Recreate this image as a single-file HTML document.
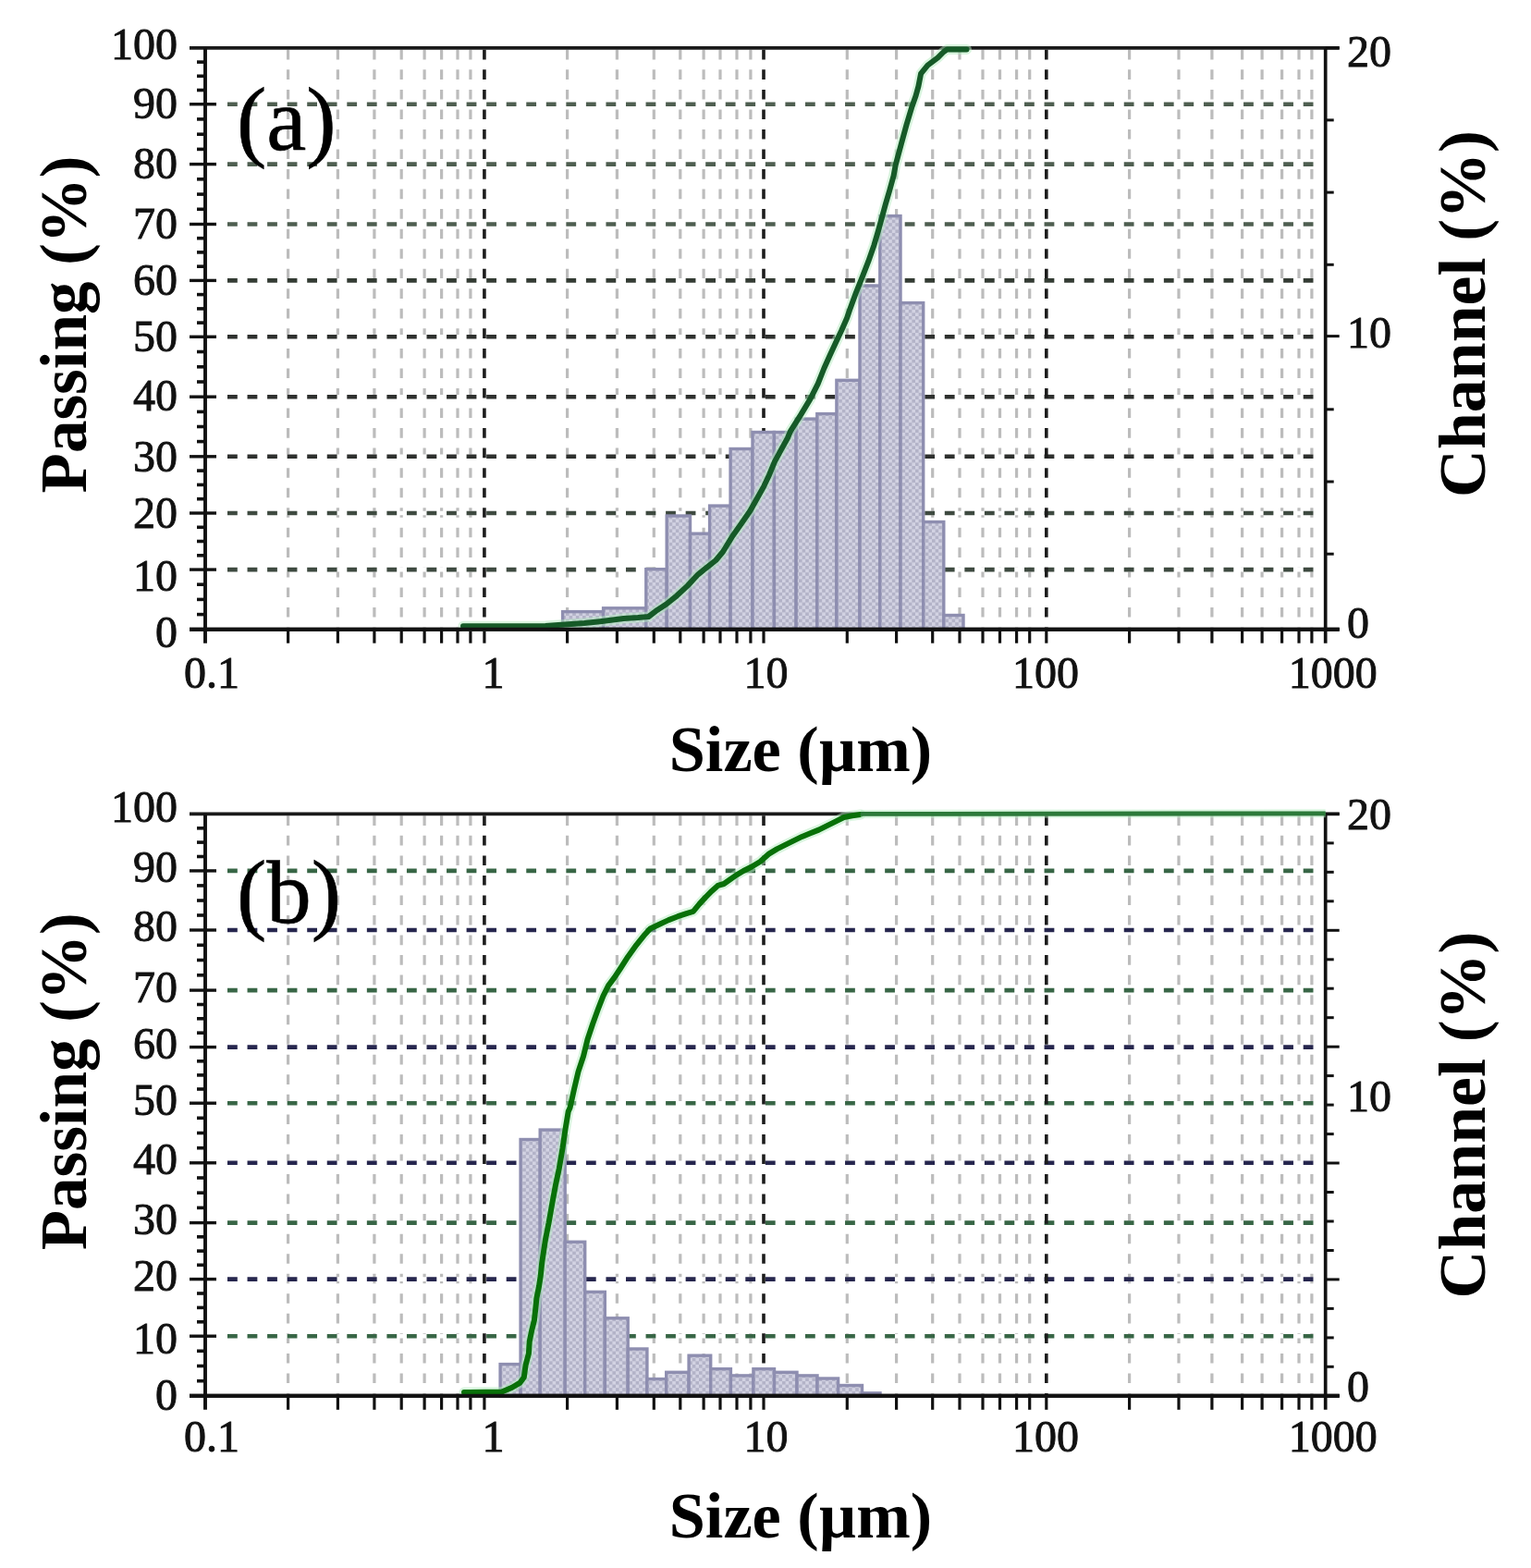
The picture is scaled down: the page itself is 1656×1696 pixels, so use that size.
<!DOCTYPE html>
<html><head><meta charset="utf-8"><title>Particle size distribution</title>
<style>
html,body{margin:0;padding:0;background:#fff;}
body{width:1656px;height:1696px;overflow:hidden;}
svg{display:block;}
.n{font-family:"Liberation Serif","Times New Roman",serif;font-size:48px;fill:#111;stroke:#111;stroke-width:0.9px;}
.t{font-family:"Liberation Serif","Times New Roman",serif;font-size:71px;font-weight:bold;fill:#000;}
.p{font-family:"Liberation Serif","Times New Roman",serif;font-size:97px;fill:#000;stroke:#000;stroke-width:0.6px;}
</style></head>
<body>
<svg width="1656" height="1696" viewBox="0 0 1656 1696">
<defs>
<pattern id="chk" patternUnits="userSpaceOnUse" width="7.2" height="7.2">
<rect width="7.2" height="7.2" fill="#d2d2e2"/>
<rect width="3.6" height="3.6" fill="#b3b3c8"/>
<rect x="3.6" y="3.6" width="3.6" height="3.6" fill="#b3b3c8"/>
</pattern>
</defs>
<g>
<rect width="1656" height="1696" fill="#fff"/>
<line x1="311.6" y1="51.9" x2="311.6" y2="680.7" stroke="#bcbcbc" stroke-width="3.2" stroke-dasharray="10.6 10.94" stroke-dashoffset="-1.9"/>
<line x1="365.4" y1="51.9" x2="365.4" y2="680.7" stroke="#bcbcbc" stroke-width="3.2" stroke-dasharray="10.6 10.94" stroke-dashoffset="-1.9"/>
<line x1="404.9" y1="51.9" x2="404.9" y2="680.7" stroke="#bcbcbc" stroke-width="3.2" stroke-dasharray="10.6 10.94" stroke-dashoffset="-1.9"/>
<line x1="434.2" y1="51.9" x2="434.2" y2="680.7" stroke="#bcbcbc" stroke-width="3.2" stroke-dasharray="10.6 10.94" stroke-dashoffset="-1.9"/>
<line x1="459.1" y1="51.9" x2="459.1" y2="680.7" stroke="#bcbcbc" stroke-width="3.2" stroke-dasharray="10.6 10.94" stroke-dashoffset="-1.9"/>
<line x1="477.6" y1="51.9" x2="477.6" y2="680.7" stroke="#bcbcbc" stroke-width="3.2" stroke-dasharray="10.6 10.94" stroke-dashoffset="-1.9"/>
<line x1="495.0" y1="51.9" x2="495.0" y2="680.7" stroke="#bcbcbc" stroke-width="3.2" stroke-dasharray="10.6 10.94" stroke-dashoffset="-1.9"/>
<line x1="508.9" y1="51.9" x2="508.9" y2="680.7" stroke="#bcbcbc" stroke-width="3.2" stroke-dasharray="10.6 10.94" stroke-dashoffset="-1.9"/>
<line x1="613.6" y1="51.9" x2="613.6" y2="680.7" stroke="#bcbcbc" stroke-width="3.2" stroke-dasharray="10.6 10.94" stroke-dashoffset="-1.9"/>
<line x1="667.4" y1="51.9" x2="667.4" y2="680.7" stroke="#bcbcbc" stroke-width="3.2" stroke-dasharray="10.6 10.94" stroke-dashoffset="-1.9"/>
<line x1="707.3" y1="51.9" x2="707.3" y2="680.7" stroke="#bcbcbc" stroke-width="3.2" stroke-dasharray="10.6 10.94" stroke-dashoffset="-1.9"/>
<line x1="735.8" y1="51.9" x2="735.8" y2="680.7" stroke="#bcbcbc" stroke-width="3.2" stroke-dasharray="10.6 10.94" stroke-dashoffset="-1.9"/>
<line x1="761.1" y1="51.9" x2="761.1" y2="680.7" stroke="#bcbcbc" stroke-width="3.2" stroke-dasharray="10.6 10.94" stroke-dashoffset="-1.9"/>
<line x1="779.0" y1="51.9" x2="779.0" y2="680.7" stroke="#bcbcbc" stroke-width="3.2" stroke-dasharray="10.6 10.94" stroke-dashoffset="-1.9"/>
<line x1="797.0" y1="51.9" x2="797.0" y2="680.7" stroke="#bcbcbc" stroke-width="3.2" stroke-dasharray="10.6 10.94" stroke-dashoffset="-1.9"/>
<line x1="811.9" y1="51.9" x2="811.9" y2="680.7" stroke="#bcbcbc" stroke-width="3.2" stroke-dasharray="10.6 10.94" stroke-dashoffset="-1.9"/>
<line x1="916.3" y1="51.9" x2="916.3" y2="680.7" stroke="#bcbcbc" stroke-width="3.2" stroke-dasharray="10.6 10.94" stroke-dashoffset="-1.9"/>
<line x1="969.6" y1="51.9" x2="969.6" y2="680.7" stroke="#bcbcbc" stroke-width="3.2" stroke-dasharray="10.6 10.94" stroke-dashoffset="-1.9"/>
<line x1="1008.7" y1="51.9" x2="1008.7" y2="680.7" stroke="#bcbcbc" stroke-width="3.2" stroke-dasharray="10.6 10.94" stroke-dashoffset="-1.9"/>
<line x1="1038.0" y1="51.9" x2="1038.0" y2="680.7" stroke="#bcbcbc" stroke-width="3.2" stroke-dasharray="10.6 10.94" stroke-dashoffset="-1.9"/>
<line x1="1063.0" y1="51.9" x2="1063.0" y2="680.7" stroke="#bcbcbc" stroke-width="3.2" stroke-dasharray="10.6 10.94" stroke-dashoffset="-1.9"/>
<line x1="1081.5" y1="51.9" x2="1081.5" y2="680.7" stroke="#bcbcbc" stroke-width="3.2" stroke-dasharray="10.6 10.94" stroke-dashoffset="-1.9"/>
<line x1="1099.6" y1="51.9" x2="1099.6" y2="680.7" stroke="#bcbcbc" stroke-width="3.2" stroke-dasharray="10.6 10.94" stroke-dashoffset="-1.9"/>
<line x1="1113.7" y1="51.9" x2="1113.7" y2="680.7" stroke="#bcbcbc" stroke-width="3.2" stroke-dasharray="10.6 10.94" stroke-dashoffset="-1.9"/>
<line x1="1221.6" y1="51.9" x2="1221.6" y2="680.7" stroke="#bcbcbc" stroke-width="3.2" stroke-dasharray="10.6 10.94" stroke-dashoffset="-1.9"/>
<line x1="1275.0" y1="51.9" x2="1275.0" y2="680.7" stroke="#bcbcbc" stroke-width="3.2" stroke-dasharray="10.6 10.94" stroke-dashoffset="-1.9"/>
<line x1="1310.9" y1="51.9" x2="1310.9" y2="680.7" stroke="#bcbcbc" stroke-width="3.2" stroke-dasharray="10.6 10.94" stroke-dashoffset="-1.9"/>
<line x1="1343.6" y1="51.9" x2="1343.6" y2="680.7" stroke="#bcbcbc" stroke-width="3.2" stroke-dasharray="10.6 10.94" stroke-dashoffset="-1.9"/>
<line x1="1365.1" y1="51.9" x2="1365.1" y2="680.7" stroke="#bcbcbc" stroke-width="3.2" stroke-dasharray="10.6 10.94" stroke-dashoffset="-1.9"/>
<line x1="1386.6" y1="51.9" x2="1386.6" y2="680.7" stroke="#bcbcbc" stroke-width="3.2" stroke-dasharray="10.6 10.94" stroke-dashoffset="-1.9"/>
<line x1="1405.0" y1="51.9" x2="1405.0" y2="680.7" stroke="#bcbcbc" stroke-width="3.2" stroke-dasharray="10.6 10.94" stroke-dashoffset="-1.9"/>
<line x1="1418.9" y1="51.9" x2="1418.9" y2="680.7" stroke="#bcbcbc" stroke-width="3.2" stroke-dasharray="10.6 10.94" stroke-dashoffset="-1.9"/>
<line x1="224.0" y1="616.1" x2="1431.7" y2="616.1" stroke="#fff" stroke-width="4.6"/>
<line x1="246.0" y1="616.1" x2="1421.7" y2="616.1" stroke="#3e4a40" stroke-width="4.6" stroke-dasharray="10.8 10.75"/>
<line x1="224.0" y1="555.0" x2="1431.7" y2="555.0" stroke="#fff" stroke-width="4.6"/>
<line x1="246.0" y1="555.0" x2="1421.7" y2="555.0" stroke="#3e4a40" stroke-width="4.6" stroke-dasharray="10.8 10.75"/>
<line x1="224.0" y1="493.8" x2="1431.7" y2="493.8" stroke="#fff" stroke-width="4.6"/>
<line x1="246.0" y1="493.8" x2="1421.7" y2="493.8" stroke="#2e302e" stroke-width="4.6" stroke-dasharray="10.8 10.75"/>
<line x1="224.0" y1="429.2" x2="1431.7" y2="429.2" stroke="#fff" stroke-width="4.6"/>
<line x1="246.0" y1="429.2" x2="1421.7" y2="429.2" stroke="#2e302e" stroke-width="4.6" stroke-dasharray="10.8 10.75"/>
<line x1="224.0" y1="364.3" x2="1431.7" y2="364.3" stroke="#fff" stroke-width="4.6"/>
<line x1="246.0" y1="364.3" x2="1421.7" y2="364.3" stroke="#2e302e" stroke-width="4.6" stroke-dasharray="10.8 10.75"/>
<line x1="224.0" y1="303.4" x2="1431.7" y2="303.4" stroke="#fff" stroke-width="4.6"/>
<line x1="246.0" y1="303.4" x2="1421.7" y2="303.4" stroke="#343c34" stroke-width="4.6" stroke-dasharray="10.8 10.75"/>
<line x1="224.0" y1="242.5" x2="1431.7" y2="242.5" stroke="#fff" stroke-width="4.6"/>
<line x1="246.0" y1="242.5" x2="1421.7" y2="242.5" stroke="#4e5e50" stroke-width="4.6" stroke-dasharray="10.8 10.75"/>
<line x1="224.0" y1="177.6" x2="1431.7" y2="177.6" stroke="#fff" stroke-width="4.6"/>
<line x1="246.0" y1="177.6" x2="1421.7" y2="177.6" stroke="#4e5e50" stroke-width="4.6" stroke-dasharray="10.8 10.75"/>
<line x1="224.0" y1="112.7" x2="1431.7" y2="112.7" stroke="#fff" stroke-width="4.6"/>
<line x1="246.0" y1="112.7" x2="1421.7" y2="112.7" stroke="#4e5e50" stroke-width="4.6" stroke-dasharray="10.8 10.75"/>
<line x1="523.9" y1="51.9" x2="523.9" y2="680.7" stroke="#1c1c1c" stroke-width="3.6" stroke-dasharray="10.6 10.94" stroke-dashoffset="-1.9"/>
<line x1="826.0" y1="51.9" x2="826.0" y2="680.7" stroke="#1c1c1c" stroke-width="3.6" stroke-dasharray="10.6 10.94" stroke-dashoffset="-1.9"/>
<line x1="1131.8" y1="51.9" x2="1131.8" y2="680.7" stroke="#1c1c1c" stroke-width="3.6" stroke-dasharray="10.6 10.94" stroke-dashoffset="-1.9"/>
<rect x="608.6" y="661.6" width="44.0" height="19.1" fill="url(#chk)" stroke="#8e8eb0" stroke-width="3.4"/>
<rect x="652.6" y="657.8" width="46.2" height="22.9" fill="url(#chk)" stroke="#8e8eb0" stroke-width="3.4"/>
<rect x="698.8" y="615.7" width="22.4" height="65.0" fill="url(#chk)" stroke="#8e8eb0" stroke-width="3.4"/>
<rect x="721.2" y="558.0" width="25.3" height="122.7" fill="url(#chk)" stroke="#8e8eb0" stroke-width="3.4"/>
<rect x="746.5" y="577.2" width="21.1" height="103.5" fill="url(#chk)" stroke="#8e8eb0" stroke-width="3.4"/>
<rect x="767.6" y="547.1" width="22.5" height="133.6" fill="url(#chk)" stroke="#8e8eb0" stroke-width="3.4"/>
<rect x="790.1" y="485.5" width="23.9" height="195.2" fill="url(#chk)" stroke="#8e8eb0" stroke-width="3.4"/>
<rect x="814.0" y="467.5" width="23.4" height="213.2" fill="url(#chk)" stroke="#8e8eb0" stroke-width="3.4"/>
<rect x="837.4" y="467.5" width="23.7" height="213.2" fill="url(#chk)" stroke="#8e8eb0" stroke-width="3.4"/>
<rect x="861.1" y="453.1" width="22.7" height="227.6" fill="url(#chk)" stroke="#8e8eb0" stroke-width="3.4"/>
<rect x="883.8" y="447.6" width="21.1" height="233.1" fill="url(#chk)" stroke="#8e8eb0" stroke-width="3.4"/>
<rect x="904.9" y="411.3" width="25.1" height="269.4" fill="url(#chk)" stroke="#8e8eb0" stroke-width="3.4"/>
<rect x="930.0" y="309.0" width="21.8" height="371.7" fill="url(#chk)" stroke="#8e8eb0" stroke-width="3.4"/>
<rect x="951.8" y="233.6" width="22.2" height="447.1" fill="url(#chk)" stroke="#8e8eb0" stroke-width="3.4"/>
<rect x="974.0" y="327.6" width="24.7" height="353.1" fill="url(#chk)" stroke="#8e8eb0" stroke-width="3.4"/>
<rect x="998.7" y="564.5" width="22.1" height="116.2" fill="url(#chk)" stroke="#8e8eb0" stroke-width="3.4"/>
<rect x="1020.8" y="665.5" width="21.2" height="15.2" fill="url(#chk)" stroke="#8e8eb0" stroke-width="3.4"/>
<line x1="205.0" y1="51.9" x2="1448.7" y2="51.9" stroke="#1a1a1a" stroke-width="3.9"/>
<line x1="205.0" y1="680.7" x2="1448.7" y2="680.7" stroke="#111" stroke-width="3.9"/>
<line x1="222.0" y1="51.9" x2="222.0" y2="695.7" stroke="#111" stroke-width="3.9"/>
<line x1="1433.7" y1="51.9" x2="1433.7" y2="695.7" stroke="#111" stroke-width="3.7"/>
<line x1="205.0" y1="616.1" x2="234.0" y2="616.1" stroke="#111" stroke-width="3.4"/>
<line x1="205.0" y1="555.0" x2="234.0" y2="555.0" stroke="#111" stroke-width="3.4"/>
<line x1="205.0" y1="493.8" x2="234.0" y2="493.8" stroke="#111" stroke-width="3.4"/>
<line x1="205.0" y1="429.2" x2="234.0" y2="429.2" stroke="#111" stroke-width="3.4"/>
<line x1="205.0" y1="364.3" x2="234.0" y2="364.3" stroke="#111" stroke-width="3.4"/>
<line x1="205.0" y1="303.4" x2="234.0" y2="303.4" stroke="#111" stroke-width="3.4"/>
<line x1="205.0" y1="242.5" x2="234.0" y2="242.5" stroke="#111" stroke-width="3.4"/>
<line x1="205.0" y1="177.6" x2="234.0" y2="177.6" stroke="#111" stroke-width="3.4"/>
<line x1="205.0" y1="112.7" x2="234.0" y2="112.7" stroke="#111" stroke-width="3.4"/>
<line x1="213.0" y1="664.6" x2="222.0" y2="664.6" stroke="#111" stroke-width="3.6"/>
<line x1="213.0" y1="648.4" x2="222.0" y2="648.4" stroke="#111" stroke-width="3.6"/>
<line x1="213.0" y1="632.2" x2="222.0" y2="632.2" stroke="#111" stroke-width="3.6"/>
<line x1="213.0" y1="600.8" x2="222.0" y2="600.8" stroke="#111" stroke-width="3.6"/>
<line x1="213.0" y1="585.5" x2="222.0" y2="585.5" stroke="#111" stroke-width="3.6"/>
<line x1="213.0" y1="570.3" x2="222.0" y2="570.3" stroke="#111" stroke-width="3.6"/>
<line x1="213.0" y1="539.7" x2="222.0" y2="539.7" stroke="#111" stroke-width="3.6"/>
<line x1="213.0" y1="524.4" x2="222.0" y2="524.4" stroke="#111" stroke-width="3.6"/>
<line x1="213.0" y1="509.1" x2="222.0" y2="509.1" stroke="#111" stroke-width="3.6"/>
<line x1="213.0" y1="477.6" x2="222.0" y2="477.6" stroke="#111" stroke-width="3.6"/>
<line x1="213.0" y1="461.5" x2="222.0" y2="461.5" stroke="#111" stroke-width="3.6"/>
<line x1="213.0" y1="445.4" x2="222.0" y2="445.4" stroke="#111" stroke-width="3.6"/>
<line x1="213.0" y1="413.0" x2="222.0" y2="413.0" stroke="#111" stroke-width="3.6"/>
<line x1="213.0" y1="396.8" x2="222.0" y2="396.8" stroke="#111" stroke-width="3.6"/>
<line x1="213.0" y1="380.5" x2="222.0" y2="380.5" stroke="#111" stroke-width="3.6"/>
<line x1="213.0" y1="349.1" x2="222.0" y2="349.1" stroke="#111" stroke-width="3.6"/>
<line x1="213.0" y1="333.9" x2="222.0" y2="333.9" stroke="#111" stroke-width="3.6"/>
<line x1="213.0" y1="318.6" x2="222.0" y2="318.6" stroke="#111" stroke-width="3.6"/>
<line x1="213.0" y1="288.2" x2="222.0" y2="288.2" stroke="#111" stroke-width="3.6"/>
<line x1="213.0" y1="272.9" x2="222.0" y2="272.9" stroke="#111" stroke-width="3.6"/>
<line x1="213.0" y1="257.7" x2="222.0" y2="257.7" stroke="#111" stroke-width="3.6"/>
<line x1="213.0" y1="226.3" x2="222.0" y2="226.3" stroke="#111" stroke-width="3.6"/>
<line x1="213.0" y1="210.1" x2="222.0" y2="210.1" stroke="#111" stroke-width="3.6"/>
<line x1="213.0" y1="193.8" x2="222.0" y2="193.8" stroke="#111" stroke-width="3.6"/>
<line x1="213.0" y1="161.4" x2="222.0" y2="161.4" stroke="#111" stroke-width="3.6"/>
<line x1="213.0" y1="145.2" x2="222.0" y2="145.2" stroke="#111" stroke-width="3.6"/>
<line x1="213.0" y1="128.9" x2="222.0" y2="128.9" stroke="#111" stroke-width="3.6"/>
<line x1="213.0" y1="97.5" x2="222.0" y2="97.5" stroke="#111" stroke-width="3.6"/>
<line x1="213.0" y1="82.3" x2="222.0" y2="82.3" stroke="#111" stroke-width="3.6"/>
<line x1="213.0" y1="67.1" x2="222.0" y2="67.1" stroke="#111" stroke-width="3.6"/>
<line x1="311.6" y1="680.7" x2="311.6" y2="695.7" stroke="#111" stroke-width="3.2"/>
<line x1="365.4" y1="680.7" x2="365.4" y2="695.7" stroke="#111" stroke-width="3.2"/>
<line x1="404.9" y1="680.7" x2="404.9" y2="695.7" stroke="#111" stroke-width="3.2"/>
<line x1="434.2" y1="680.7" x2="434.2" y2="695.7" stroke="#111" stroke-width="3.2"/>
<line x1="459.1" y1="680.7" x2="459.1" y2="695.7" stroke="#111" stroke-width="3.2"/>
<line x1="477.6" y1="680.7" x2="477.6" y2="695.7" stroke="#111" stroke-width="3.2"/>
<line x1="495.0" y1="680.7" x2="495.0" y2="695.7" stroke="#111" stroke-width="3.2"/>
<line x1="508.9" y1="680.7" x2="508.9" y2="695.7" stroke="#111" stroke-width="3.2"/>
<line x1="613.6" y1="680.7" x2="613.6" y2="695.7" stroke="#111" stroke-width="3.2"/>
<line x1="667.4" y1="680.7" x2="667.4" y2="695.7" stroke="#111" stroke-width="3.2"/>
<line x1="707.3" y1="680.7" x2="707.3" y2="695.7" stroke="#111" stroke-width="3.2"/>
<line x1="735.8" y1="680.7" x2="735.8" y2="695.7" stroke="#111" stroke-width="3.2"/>
<line x1="761.1" y1="680.7" x2="761.1" y2="695.7" stroke="#111" stroke-width="3.2"/>
<line x1="779.0" y1="680.7" x2="779.0" y2="695.7" stroke="#111" stroke-width="3.2"/>
<line x1="797.0" y1="680.7" x2="797.0" y2="695.7" stroke="#111" stroke-width="3.2"/>
<line x1="811.9" y1="680.7" x2="811.9" y2="695.7" stroke="#111" stroke-width="3.2"/>
<line x1="916.3" y1="680.7" x2="916.3" y2="695.7" stroke="#111" stroke-width="3.2"/>
<line x1="969.6" y1="680.7" x2="969.6" y2="695.7" stroke="#111" stroke-width="3.2"/>
<line x1="1008.7" y1="680.7" x2="1008.7" y2="695.7" stroke="#111" stroke-width="3.2"/>
<line x1="1038.0" y1="680.7" x2="1038.0" y2="695.7" stroke="#111" stroke-width="3.2"/>
<line x1="1063.0" y1="680.7" x2="1063.0" y2="695.7" stroke="#111" stroke-width="3.2"/>
<line x1="1081.5" y1="680.7" x2="1081.5" y2="695.7" stroke="#111" stroke-width="3.2"/>
<line x1="1099.6" y1="680.7" x2="1099.6" y2="695.7" stroke="#111" stroke-width="3.2"/>
<line x1="1113.7" y1="680.7" x2="1113.7" y2="695.7" stroke="#111" stroke-width="3.2"/>
<line x1="1221.6" y1="680.7" x2="1221.6" y2="695.7" stroke="#111" stroke-width="3.2"/>
<line x1="1275.0" y1="680.7" x2="1275.0" y2="695.7" stroke="#111" stroke-width="3.2"/>
<line x1="1310.9" y1="680.7" x2="1310.9" y2="695.7" stroke="#111" stroke-width="3.2"/>
<line x1="1343.6" y1="680.7" x2="1343.6" y2="695.7" stroke="#111" stroke-width="3.2"/>
<line x1="1365.1" y1="680.7" x2="1365.1" y2="695.7" stroke="#111" stroke-width="3.2"/>
<line x1="1386.6" y1="680.7" x2="1386.6" y2="695.7" stroke="#111" stroke-width="3.2"/>
<line x1="1405.0" y1="680.7" x2="1405.0" y2="695.7" stroke="#111" stroke-width="3.2"/>
<line x1="1418.9" y1="680.7" x2="1418.9" y2="695.7" stroke="#111" stroke-width="3.2"/>
<line x1="523.9" y1="680.7" x2="523.9" y2="695.7" stroke="#111" stroke-width="3.2"/>
<line x1="826.0" y1="680.7" x2="826.0" y2="695.7" stroke="#111" stroke-width="3.2"/>
<line x1="1131.8" y1="680.7" x2="1131.8" y2="695.7" stroke="#111" stroke-width="3.2"/>
<line x1="1433.7" y1="680.7" x2="1448.7" y2="680.7" stroke="#111" stroke-width="3"/>
<line x1="1433.7" y1="51.9" x2="1448.7" y2="51.9" stroke="#111" stroke-width="3"/>
<line x1="1433.7" y1="129.9" x2="1442.7" y2="129.9" stroke="#111" stroke-width="3"/>
<line x1="1433.7" y1="208.1" x2="1442.7" y2="208.1" stroke="#111" stroke-width="3"/>
<line x1="1433.7" y1="286.3" x2="1442.7" y2="286.3" stroke="#111" stroke-width="3"/>
<line x1="1433.7" y1="442.8" x2="1442.7" y2="442.8" stroke="#111" stroke-width="3"/>
<line x1="1433.7" y1="521.0" x2="1442.7" y2="521.0" stroke="#111" stroke-width="3"/>
<line x1="1433.7" y1="599.2" x2="1442.7" y2="599.2" stroke="#111" stroke-width="3"/>
<line x1="1433.7" y1="363.6" x2="1448.7" y2="363.6" stroke="#111" stroke-width="3"/>
<polyline points="501.0,677.2 590.0,677.0 632.0,674.0 649.0,672.2 674.5,669.0 690.0,668.0 701.5,667.0 709.2,661.1 720.7,653.5 732.1,644.3 743.6,633.6 755.1,621.3 766.6,612.1 774.3,606.0 782.0,596.8 788.1,586.8 792.4,579.7 802.3,565.7 811.4,552.5 818.8,539.3 826.2,526.1 832.0,513.7 837.8,499.6 844.4,487.3 851.8,474.0 855.0,466.3 866.5,448.1 876.4,431.6 884.7,415.1 891.3,398.5 897.9,383.7 904.5,369.6 910.3,357.3 916.1,344.0 918.8,336.0 925.9,316.5 933.0,298.8 939.2,282.9 945.4,265.2 949.8,250.2 954.2,234.2 957.8,221.0 962.2,206.0 966.6,190.0 968.7,178.5 975.1,154.7 980.6,134.6 986.1,116.3 990.6,103.5 993.4,93.4 996.1,79.7 1003.4,70.6 1014.4,62.4 1020.8,56.0 1024.5,53.4 1045.5,53.4" fill="none" stroke="#b4ecc0" stroke-width="11" stroke-linejoin="round" stroke-linecap="round" opacity="0.5"/>
<polyline points="501.0,677.2 590.0,677.0 632.0,674.0 649.0,672.2 674.5,669.0 690.0,668.0 701.5,667.0 709.2,661.1 720.7,653.5 732.1,644.3 743.6,633.6 755.1,621.3 766.6,612.1 774.3,606.0 782.0,596.8 788.1,586.8 792.4,579.7 802.3,565.7 811.4,552.5 818.8,539.3 826.2,526.1 832.0,513.7 837.8,499.6 844.4,487.3 851.8,474.0 855.0,466.3 866.5,448.1 876.4,431.6 884.7,415.1 891.3,398.5 897.9,383.7 904.5,369.6 910.3,357.3 916.1,344.0 918.8,336.0 925.9,316.5 933.0,298.8 939.2,282.9 945.4,265.2 949.8,250.2 954.2,234.2 957.8,221.0 962.2,206.0 966.6,190.0 968.7,178.5 975.1,154.7 980.6,134.6 986.1,116.3 990.6,103.5 993.4,93.4 996.1,79.7 1003.4,70.6 1014.4,62.4 1020.8,56.0 1024.5,53.4 1045.5,53.4" fill="none" stroke="#165a28" stroke-width="6" stroke-linejoin="round" stroke-linecap="round"/>
<line x1="205.0" y1="680.7" x2="1448.7" y2="680.7" stroke="#111" stroke-width="3.9"/>
<text x="192" y="699.9" class="n" text-anchor="end">0</text>
<text x="192" y="638.9" class="n" text-anchor="end">10</text>
<text x="192" y="570.9" class="n" text-anchor="end">20</text>
<text x="192" y="510.1" class="n" text-anchor="end">30</text>
<text x="192" y="444.3" class="n" text-anchor="end">40</text>
<text x="192" y="380.2" class="n" text-anchor="end">50</text>
<text x="192" y="319.2" class="n" text-anchor="end">60</text>
<text x="192" y="258.2" class="n" text-anchor="end">70</text>
<text x="192" y="193.0" class="n" text-anchor="end">80</text>
<text x="192" y="128.3" class="n" text-anchor="end">90</text>
<text x="192" y="64.0" class="n" text-anchor="end">100</text>
<text x="1457" y="71.5" class="n">20</text>
<text x="1457" y="376.0" class="n">10</text>
<text x="1457" y="690.0" class="n">0</text>
<text x="229" y="744.2" class="n" text-anchor="middle">0.1</text>
<text x="533.5" y="744.2" class="n" text-anchor="middle">1</text>
<text x="828.5" y="744.2" class="n" text-anchor="middle">10</text>
<text x="1131" y="744.2" class="n" text-anchor="middle">100</text>
<text x="1441.7" y="744.2" class="n" text-anchor="middle">1000</text>
<text x="866" y="834.0" class="t" text-anchor="middle" style="font-size:70.3px">Size (µm)</text>
<text transform="translate(92.5 351.0) rotate(-90)" class="t" text-anchor="middle">Passing (%)</text>
<text transform="translate(1605.5 339.5) rotate(-90)" class="t" text-anchor="middle" style="font-size:71.8px">Channel (%)</text>
<text x="256" y="162.4" class="p">(a)</text>
<line x1="311.6" y1="880.4" x2="311.6" y2="1509.8" stroke="#bcbcbc" stroke-width="3.2" stroke-dasharray="10.6 10.94" stroke-dashoffset="-1.9"/>
<line x1="365.4" y1="880.4" x2="365.4" y2="1509.8" stroke="#bcbcbc" stroke-width="3.2" stroke-dasharray="10.6 10.94" stroke-dashoffset="-1.9"/>
<line x1="404.9" y1="880.4" x2="404.9" y2="1509.8" stroke="#bcbcbc" stroke-width="3.2" stroke-dasharray="10.6 10.94" stroke-dashoffset="-1.9"/>
<line x1="434.2" y1="880.4" x2="434.2" y2="1509.8" stroke="#bcbcbc" stroke-width="3.2" stroke-dasharray="10.6 10.94" stroke-dashoffset="-1.9"/>
<line x1="459.1" y1="880.4" x2="459.1" y2="1509.8" stroke="#bcbcbc" stroke-width="3.2" stroke-dasharray="10.6 10.94" stroke-dashoffset="-1.9"/>
<line x1="477.6" y1="880.4" x2="477.6" y2="1509.8" stroke="#bcbcbc" stroke-width="3.2" stroke-dasharray="10.6 10.94" stroke-dashoffset="-1.9"/>
<line x1="495.0" y1="880.4" x2="495.0" y2="1509.8" stroke="#bcbcbc" stroke-width="3.2" stroke-dasharray="10.6 10.94" stroke-dashoffset="-1.9"/>
<line x1="508.9" y1="880.4" x2="508.9" y2="1509.8" stroke="#bcbcbc" stroke-width="3.2" stroke-dasharray="10.6 10.94" stroke-dashoffset="-1.9"/>
<line x1="613.6" y1="880.4" x2="613.6" y2="1509.8" stroke="#bcbcbc" stroke-width="3.2" stroke-dasharray="10.6 10.94" stroke-dashoffset="-1.9"/>
<line x1="667.4" y1="880.4" x2="667.4" y2="1509.8" stroke="#bcbcbc" stroke-width="3.2" stroke-dasharray="10.6 10.94" stroke-dashoffset="-1.9"/>
<line x1="707.3" y1="880.4" x2="707.3" y2="1509.8" stroke="#bcbcbc" stroke-width="3.2" stroke-dasharray="10.6 10.94" stroke-dashoffset="-1.9"/>
<line x1="735.8" y1="880.4" x2="735.8" y2="1509.8" stroke="#bcbcbc" stroke-width="3.2" stroke-dasharray="10.6 10.94" stroke-dashoffset="-1.9"/>
<line x1="761.1" y1="880.4" x2="761.1" y2="1509.8" stroke="#bcbcbc" stroke-width="3.2" stroke-dasharray="10.6 10.94" stroke-dashoffset="-1.9"/>
<line x1="779.0" y1="880.4" x2="779.0" y2="1509.8" stroke="#bcbcbc" stroke-width="3.2" stroke-dasharray="10.6 10.94" stroke-dashoffset="-1.9"/>
<line x1="797.0" y1="880.4" x2="797.0" y2="1509.8" stroke="#bcbcbc" stroke-width="3.2" stroke-dasharray="10.6 10.94" stroke-dashoffset="-1.9"/>
<line x1="811.9" y1="880.4" x2="811.9" y2="1509.8" stroke="#bcbcbc" stroke-width="3.2" stroke-dasharray="10.6 10.94" stroke-dashoffset="-1.9"/>
<line x1="916.3" y1="880.4" x2="916.3" y2="1509.8" stroke="#bcbcbc" stroke-width="3.2" stroke-dasharray="10.6 10.94" stroke-dashoffset="-1.9"/>
<line x1="969.6" y1="880.4" x2="969.6" y2="1509.8" stroke="#bcbcbc" stroke-width="3.2" stroke-dasharray="10.6 10.94" stroke-dashoffset="-1.9"/>
<line x1="1008.7" y1="880.4" x2="1008.7" y2="1509.8" stroke="#bcbcbc" stroke-width="3.2" stroke-dasharray="10.6 10.94" stroke-dashoffset="-1.9"/>
<line x1="1038.0" y1="880.4" x2="1038.0" y2="1509.8" stroke="#bcbcbc" stroke-width="3.2" stroke-dasharray="10.6 10.94" stroke-dashoffset="-1.9"/>
<line x1="1063.0" y1="880.4" x2="1063.0" y2="1509.8" stroke="#bcbcbc" stroke-width="3.2" stroke-dasharray="10.6 10.94" stroke-dashoffset="-1.9"/>
<line x1="1081.5" y1="880.4" x2="1081.5" y2="1509.8" stroke="#bcbcbc" stroke-width="3.2" stroke-dasharray="10.6 10.94" stroke-dashoffset="-1.9"/>
<line x1="1099.6" y1="880.4" x2="1099.6" y2="1509.8" stroke="#bcbcbc" stroke-width="3.2" stroke-dasharray="10.6 10.94" stroke-dashoffset="-1.9"/>
<line x1="1113.7" y1="880.4" x2="1113.7" y2="1509.8" stroke="#bcbcbc" stroke-width="3.2" stroke-dasharray="10.6 10.94" stroke-dashoffset="-1.9"/>
<line x1="1221.6" y1="880.4" x2="1221.6" y2="1509.8" stroke="#bcbcbc" stroke-width="3.2" stroke-dasharray="10.6 10.94" stroke-dashoffset="-1.9"/>
<line x1="1275.0" y1="880.4" x2="1275.0" y2="1509.8" stroke="#bcbcbc" stroke-width="3.2" stroke-dasharray="10.6 10.94" stroke-dashoffset="-1.9"/>
<line x1="1310.9" y1="880.4" x2="1310.9" y2="1509.8" stroke="#bcbcbc" stroke-width="3.2" stroke-dasharray="10.6 10.94" stroke-dashoffset="-1.9"/>
<line x1="1343.6" y1="880.4" x2="1343.6" y2="1509.8" stroke="#bcbcbc" stroke-width="3.2" stroke-dasharray="10.6 10.94" stroke-dashoffset="-1.9"/>
<line x1="1365.1" y1="880.4" x2="1365.1" y2="1509.8" stroke="#bcbcbc" stroke-width="3.2" stroke-dasharray="10.6 10.94" stroke-dashoffset="-1.9"/>
<line x1="1386.6" y1="880.4" x2="1386.6" y2="1509.8" stroke="#bcbcbc" stroke-width="3.2" stroke-dasharray="10.6 10.94" stroke-dashoffset="-1.9"/>
<line x1="1405.0" y1="880.4" x2="1405.0" y2="1509.8" stroke="#bcbcbc" stroke-width="3.2" stroke-dasharray="10.6 10.94" stroke-dashoffset="-1.9"/>
<line x1="1418.9" y1="880.4" x2="1418.9" y2="1509.8" stroke="#bcbcbc" stroke-width="3.2" stroke-dasharray="10.6 10.94" stroke-dashoffset="-1.9"/>
<line x1="224.0" y1="1445.2" x2="1431.7" y2="1445.2" stroke="#fff" stroke-width="4.6"/>
<line x1="246.0" y1="1445.2" x2="1421.7" y2="1445.2" stroke="#386646" stroke-width="4.6" stroke-dasharray="10.8 10.75"/>
<line x1="224.0" y1="1383.6" x2="1431.7" y2="1383.6" stroke="#fff" stroke-width="4.6"/>
<line x1="246.0" y1="1383.6" x2="1421.7" y2="1383.6" stroke="#26264e" stroke-width="4.6" stroke-dasharray="10.8 10.75"/>
<line x1="224.0" y1="1322.6" x2="1431.7" y2="1322.6" stroke="#fff" stroke-width="4.6"/>
<line x1="246.0" y1="1322.6" x2="1421.7" y2="1322.6" stroke="#386646" stroke-width="4.6" stroke-dasharray="10.8 10.75"/>
<line x1="224.0" y1="1257.8" x2="1431.7" y2="1257.8" stroke="#fff" stroke-width="4.6"/>
<line x1="246.0" y1="1257.8" x2="1421.7" y2="1257.8" stroke="#26264e" stroke-width="4.6" stroke-dasharray="10.8 10.75"/>
<line x1="224.0" y1="1193.2" x2="1431.7" y2="1193.2" stroke="#fff" stroke-width="4.6"/>
<line x1="246.0" y1="1193.2" x2="1421.7" y2="1193.2" stroke="#386646" stroke-width="4.6" stroke-dasharray="10.8 10.75"/>
<line x1="224.0" y1="1132.6" x2="1431.7" y2="1132.6" stroke="#fff" stroke-width="4.6"/>
<line x1="246.0" y1="1132.6" x2="1421.7" y2="1132.6" stroke="#26264e" stroke-width="4.6" stroke-dasharray="10.8 10.75"/>
<line x1="224.0" y1="1071.1" x2="1431.7" y2="1071.1" stroke="#fff" stroke-width="4.6"/>
<line x1="246.0" y1="1071.1" x2="1421.7" y2="1071.1" stroke="#386646" stroke-width="4.6" stroke-dasharray="10.8 10.75"/>
<line x1="224.0" y1="1006.0" x2="1431.7" y2="1006.0" stroke="#fff" stroke-width="4.6"/>
<line x1="246.0" y1="1006.0" x2="1421.7" y2="1006.0" stroke="#26264e" stroke-width="4.6" stroke-dasharray="10.8 10.75"/>
<line x1="224.0" y1="941.9" x2="1431.7" y2="941.9" stroke="#fff" stroke-width="4.6"/>
<line x1="246.0" y1="941.9" x2="1421.7" y2="941.9" stroke="#386646" stroke-width="4.6" stroke-dasharray="10.8 10.75"/>
<line x1="523.9" y1="880.4" x2="523.9" y2="1509.8" stroke="#1c1c1c" stroke-width="3.6" stroke-dasharray="10.6 10.94" stroke-dashoffset="-1.9"/>
<line x1="826.0" y1="880.4" x2="826.0" y2="1509.8" stroke="#1c1c1c" stroke-width="3.6" stroke-dasharray="10.6 10.94" stroke-dashoffset="-1.9"/>
<line x1="1131.8" y1="880.4" x2="1131.8" y2="1509.8" stroke="#1c1c1c" stroke-width="3.6" stroke-dasharray="10.6 10.94" stroke-dashoffset="-1.9"/>
<rect x="541.1" y="1475.6" width="22.0" height="34.2" fill="url(#chk)" stroke="#8e8eb0" stroke-width="3.4"/>
<rect x="563.1" y="1232.5" width="21.1" height="277.3" fill="url(#chk)" stroke="#8e8eb0" stroke-width="3.4"/>
<rect x="584.2" y="1222.1" width="27.0" height="287.7" fill="url(#chk)" stroke="#8e8eb0" stroke-width="3.4"/>
<rect x="611.2" y="1343.3" width="21.5" height="166.5" fill="url(#chk)" stroke="#8e8eb0" stroke-width="3.4"/>
<rect x="632.7" y="1397.4" width="21.6" height="112.4" fill="url(#chk)" stroke="#8e8eb0" stroke-width="3.4"/>
<rect x="654.3" y="1425.8" width="24.9" height="84.0" fill="url(#chk)" stroke="#8e8eb0" stroke-width="3.4"/>
<rect x="679.2" y="1459.0" width="20.7" height="50.8" fill="url(#chk)" stroke="#8e8eb0" stroke-width="3.4"/>
<rect x="699.9" y="1491.6" width="20.8" height="18.2" fill="url(#chk)" stroke="#8e8eb0" stroke-width="3.4"/>
<rect x="720.7" y="1484.3" width="24.4" height="25.5" fill="url(#chk)" stroke="#8e8eb0" stroke-width="3.4"/>
<rect x="745.1" y="1466.2" width="23.6" height="43.6" fill="url(#chk)" stroke="#8e8eb0" stroke-width="3.4"/>
<rect x="768.7" y="1480.7" width="21.7" height="29.1" fill="url(#chk)" stroke="#8e8eb0" stroke-width="3.4"/>
<rect x="790.4" y="1487.9" width="24.5" height="21.9" fill="url(#chk)" stroke="#8e8eb0" stroke-width="3.4"/>
<rect x="814.9" y="1480.7" width="22.6" height="29.1" fill="url(#chk)" stroke="#8e8eb0" stroke-width="3.4"/>
<rect x="837.5" y="1484.3" width="24.5" height="25.5" fill="url(#chk)" stroke="#8e8eb0" stroke-width="3.4"/>
<rect x="862.0" y="1487.9" width="22.0" height="21.9" fill="url(#chk)" stroke="#8e8eb0" stroke-width="3.4"/>
<rect x="884.0" y="1491.0" width="22.6" height="18.8" fill="url(#chk)" stroke="#8e8eb0" stroke-width="3.4"/>
<rect x="906.6" y="1498.5" width="25.9" height="11.3" fill="url(#chk)" stroke="#8e8eb0" stroke-width="3.4"/>
<rect x="932.5" y="1506.8" width="19.5" height="3.0" fill="url(#chk)" stroke="#8e8eb0" stroke-width="3.4"/>
<line x1="205.0" y1="880.4" x2="1448.7" y2="880.4" stroke="#1a1a1a" stroke-width="3.9"/>
<line x1="205.0" y1="1509.8" x2="1448.7" y2="1509.8" stroke="#111" stroke-width="3.9"/>
<line x1="222.0" y1="880.4" x2="222.0" y2="1524.8" stroke="#111" stroke-width="3.9"/>
<line x1="1433.7" y1="880.4" x2="1433.7" y2="1524.8" stroke="#111" stroke-width="3.7"/>
<line x1="205.0" y1="1445.2" x2="234.0" y2="1445.2" stroke="#111" stroke-width="3.4"/>
<line x1="205.0" y1="1383.6" x2="234.0" y2="1383.6" stroke="#111" stroke-width="3.4"/>
<line x1="205.0" y1="1322.6" x2="234.0" y2="1322.6" stroke="#111" stroke-width="3.4"/>
<line x1="205.0" y1="1257.8" x2="234.0" y2="1257.8" stroke="#111" stroke-width="3.4"/>
<line x1="205.0" y1="1193.2" x2="234.0" y2="1193.2" stroke="#111" stroke-width="3.4"/>
<line x1="205.0" y1="1132.6" x2="234.0" y2="1132.6" stroke="#111" stroke-width="3.4"/>
<line x1="205.0" y1="1071.1" x2="234.0" y2="1071.1" stroke="#111" stroke-width="3.4"/>
<line x1="205.0" y1="1006.0" x2="234.0" y2="1006.0" stroke="#111" stroke-width="3.4"/>
<line x1="205.0" y1="941.9" x2="234.0" y2="941.9" stroke="#111" stroke-width="3.4"/>
<line x1="213.0" y1="1493.7" x2="222.0" y2="1493.7" stroke="#111" stroke-width="3.6"/>
<line x1="213.0" y1="1477.5" x2="222.0" y2="1477.5" stroke="#111" stroke-width="3.6"/>
<line x1="213.0" y1="1461.3" x2="222.0" y2="1461.3" stroke="#111" stroke-width="3.6"/>
<line x1="213.0" y1="1429.8" x2="222.0" y2="1429.8" stroke="#111" stroke-width="3.6"/>
<line x1="213.0" y1="1414.4" x2="222.0" y2="1414.4" stroke="#111" stroke-width="3.6"/>
<line x1="213.0" y1="1399.0" x2="222.0" y2="1399.0" stroke="#111" stroke-width="3.6"/>
<line x1="213.0" y1="1368.3" x2="222.0" y2="1368.3" stroke="#111" stroke-width="3.6"/>
<line x1="213.0" y1="1353.1" x2="222.0" y2="1353.1" stroke="#111" stroke-width="3.6"/>
<line x1="213.0" y1="1337.8" x2="222.0" y2="1337.8" stroke="#111" stroke-width="3.6"/>
<line x1="213.0" y1="1306.4" x2="222.0" y2="1306.4" stroke="#111" stroke-width="3.6"/>
<line x1="213.0" y1="1290.2" x2="222.0" y2="1290.2" stroke="#111" stroke-width="3.6"/>
<line x1="213.0" y1="1274.0" x2="222.0" y2="1274.0" stroke="#111" stroke-width="3.6"/>
<line x1="213.0" y1="1241.7" x2="222.0" y2="1241.7" stroke="#111" stroke-width="3.6"/>
<line x1="213.0" y1="1225.5" x2="222.0" y2="1225.5" stroke="#111" stroke-width="3.6"/>
<line x1="213.0" y1="1209.3" x2="222.0" y2="1209.3" stroke="#111" stroke-width="3.6"/>
<line x1="213.0" y1="1178.0" x2="222.0" y2="1178.0" stroke="#111" stroke-width="3.6"/>
<line x1="213.0" y1="1162.9" x2="222.0" y2="1162.9" stroke="#111" stroke-width="3.6"/>
<line x1="213.0" y1="1147.8" x2="222.0" y2="1147.8" stroke="#111" stroke-width="3.6"/>
<line x1="213.0" y1="1117.2" x2="222.0" y2="1117.2" stroke="#111" stroke-width="3.6"/>
<line x1="213.0" y1="1101.8" x2="222.0" y2="1101.8" stroke="#111" stroke-width="3.6"/>
<line x1="213.0" y1="1086.5" x2="222.0" y2="1086.5" stroke="#111" stroke-width="3.6"/>
<line x1="213.0" y1="1054.8" x2="222.0" y2="1054.8" stroke="#111" stroke-width="3.6"/>
<line x1="213.0" y1="1038.5" x2="222.0" y2="1038.5" stroke="#111" stroke-width="3.6"/>
<line x1="213.0" y1="1022.3" x2="222.0" y2="1022.3" stroke="#111" stroke-width="3.6"/>
<line x1="213.0" y1="990.0" x2="222.0" y2="990.0" stroke="#111" stroke-width="3.6"/>
<line x1="213.0" y1="974.0" x2="222.0" y2="974.0" stroke="#111" stroke-width="3.6"/>
<line x1="213.0" y1="957.9" x2="222.0" y2="957.9" stroke="#111" stroke-width="3.6"/>
<line x1="213.0" y1="926.5" x2="222.0" y2="926.5" stroke="#111" stroke-width="3.6"/>
<line x1="213.0" y1="911.1" x2="222.0" y2="911.1" stroke="#111" stroke-width="3.6"/>
<line x1="213.0" y1="895.8" x2="222.0" y2="895.8" stroke="#111" stroke-width="3.6"/>
<line x1="311.6" y1="1509.8" x2="311.6" y2="1524.8" stroke="#111" stroke-width="3.2"/>
<line x1="365.4" y1="1509.8" x2="365.4" y2="1524.8" stroke="#111" stroke-width="3.2"/>
<line x1="404.9" y1="1509.8" x2="404.9" y2="1524.8" stroke="#111" stroke-width="3.2"/>
<line x1="434.2" y1="1509.8" x2="434.2" y2="1524.8" stroke="#111" stroke-width="3.2"/>
<line x1="459.1" y1="1509.8" x2="459.1" y2="1524.8" stroke="#111" stroke-width="3.2"/>
<line x1="477.6" y1="1509.8" x2="477.6" y2="1524.8" stroke="#111" stroke-width="3.2"/>
<line x1="495.0" y1="1509.8" x2="495.0" y2="1524.8" stroke="#111" stroke-width="3.2"/>
<line x1="508.9" y1="1509.8" x2="508.9" y2="1524.8" stroke="#111" stroke-width="3.2"/>
<line x1="613.6" y1="1509.8" x2="613.6" y2="1524.8" stroke="#111" stroke-width="3.2"/>
<line x1="667.4" y1="1509.8" x2="667.4" y2="1524.8" stroke="#111" stroke-width="3.2"/>
<line x1="707.3" y1="1509.8" x2="707.3" y2="1524.8" stroke="#111" stroke-width="3.2"/>
<line x1="735.8" y1="1509.8" x2="735.8" y2="1524.8" stroke="#111" stroke-width="3.2"/>
<line x1="761.1" y1="1509.8" x2="761.1" y2="1524.8" stroke="#111" stroke-width="3.2"/>
<line x1="779.0" y1="1509.8" x2="779.0" y2="1524.8" stroke="#111" stroke-width="3.2"/>
<line x1="797.0" y1="1509.8" x2="797.0" y2="1524.8" stroke="#111" stroke-width="3.2"/>
<line x1="811.9" y1="1509.8" x2="811.9" y2="1524.8" stroke="#111" stroke-width="3.2"/>
<line x1="916.3" y1="1509.8" x2="916.3" y2="1524.8" stroke="#111" stroke-width="3.2"/>
<line x1="969.6" y1="1509.8" x2="969.6" y2="1524.8" stroke="#111" stroke-width="3.2"/>
<line x1="1008.7" y1="1509.8" x2="1008.7" y2="1524.8" stroke="#111" stroke-width="3.2"/>
<line x1="1038.0" y1="1509.8" x2="1038.0" y2="1524.8" stroke="#111" stroke-width="3.2"/>
<line x1="1063.0" y1="1509.8" x2="1063.0" y2="1524.8" stroke="#111" stroke-width="3.2"/>
<line x1="1081.5" y1="1509.8" x2="1081.5" y2="1524.8" stroke="#111" stroke-width="3.2"/>
<line x1="1099.6" y1="1509.8" x2="1099.6" y2="1524.8" stroke="#111" stroke-width="3.2"/>
<line x1="1113.7" y1="1509.8" x2="1113.7" y2="1524.8" stroke="#111" stroke-width="3.2"/>
<line x1="1221.6" y1="1509.8" x2="1221.6" y2="1524.8" stroke="#111" stroke-width="3.2"/>
<line x1="1275.0" y1="1509.8" x2="1275.0" y2="1524.8" stroke="#111" stroke-width="3.2"/>
<line x1="1310.9" y1="1509.8" x2="1310.9" y2="1524.8" stroke="#111" stroke-width="3.2"/>
<line x1="1343.6" y1="1509.8" x2="1343.6" y2="1524.8" stroke="#111" stroke-width="3.2"/>
<line x1="1365.1" y1="1509.8" x2="1365.1" y2="1524.8" stroke="#111" stroke-width="3.2"/>
<line x1="1386.6" y1="1509.8" x2="1386.6" y2="1524.8" stroke="#111" stroke-width="3.2"/>
<line x1="1405.0" y1="1509.8" x2="1405.0" y2="1524.8" stroke="#111" stroke-width="3.2"/>
<line x1="1418.9" y1="1509.8" x2="1418.9" y2="1524.8" stroke="#111" stroke-width="3.2"/>
<line x1="523.9" y1="1509.8" x2="523.9" y2="1524.8" stroke="#111" stroke-width="3.2"/>
<line x1="826.0" y1="1509.8" x2="826.0" y2="1524.8" stroke="#111" stroke-width="3.2"/>
<line x1="1131.8" y1="1509.8" x2="1131.8" y2="1524.8" stroke="#111" stroke-width="3.2"/>
<line x1="1433.7" y1="1509.8" x2="1448.7" y2="1509.8" stroke="#111" stroke-width="3"/>
<line x1="1433.7" y1="880.4" x2="1448.7" y2="880.4" stroke="#111" stroke-width="3"/>
<line x1="1433.7" y1="1478.3" x2="1442.7" y2="1478.3" stroke="#111" stroke-width="3"/>
<line x1="1433.7" y1="1446.9" x2="1442.7" y2="1446.9" stroke="#111" stroke-width="3"/>
<line x1="1433.7" y1="1415.4" x2="1442.7" y2="1415.4" stroke="#111" stroke-width="3"/>
<line x1="1433.7" y1="1383.9" x2="1448.7" y2="1383.9" stroke="#111" stroke-width="3"/>
<line x1="1433.7" y1="1352.5" x2="1442.7" y2="1352.5" stroke="#111" stroke-width="3"/>
<line x1="1433.7" y1="1321.0" x2="1442.7" y2="1321.0" stroke="#111" stroke-width="3"/>
<line x1="1433.7" y1="1289.5" x2="1442.7" y2="1289.5" stroke="#111" stroke-width="3"/>
<line x1="1433.7" y1="1258.0" x2="1448.7" y2="1258.0" stroke="#111" stroke-width="3"/>
<line x1="1433.7" y1="1226.6" x2="1442.7" y2="1226.6" stroke="#111" stroke-width="3"/>
<line x1="1433.7" y1="1195.1" x2="1442.7" y2="1195.1" stroke="#111" stroke-width="3"/>
<line x1="1433.7" y1="1163.6" x2="1442.7" y2="1163.6" stroke="#111" stroke-width="3"/>
<line x1="1433.7" y1="1132.2" x2="1448.7" y2="1132.2" stroke="#111" stroke-width="3"/>
<line x1="1433.7" y1="1100.7" x2="1442.7" y2="1100.7" stroke="#111" stroke-width="3"/>
<line x1="1433.7" y1="1069.2" x2="1442.7" y2="1069.2" stroke="#111" stroke-width="3"/>
<line x1="1433.7" y1="1037.8" x2="1442.7" y2="1037.8" stroke="#111" stroke-width="3"/>
<line x1="1433.7" y1="1006.3" x2="1448.7" y2="1006.3" stroke="#111" stroke-width="3"/>
<line x1="1433.7" y1="974.8" x2="1442.7" y2="974.8" stroke="#111" stroke-width="3"/>
<line x1="1433.7" y1="943.3" x2="1442.7" y2="943.3" stroke="#111" stroke-width="3"/>
<line x1="1433.7" y1="911.9" x2="1442.7" y2="911.9" stroke="#111" stroke-width="3"/>
<polyline points="502.0,1506.0 542.8,1505.6 553.9,1500.8 562.5,1495.6 566.8,1489.7 568.5,1476.8 571.9,1464.0 572.7,1451.2 575.3,1438.4 577.9,1428.1 579.6,1412.7 580.4,1404.2 583.0,1391.4 584.7,1380.3 586.2,1365.9 589.9,1341.1 593.6,1322.5 597.3,1301.4 601.0,1281.6 604.7,1264.3 608.5,1242.0 611.6,1220.9 614.7,1202.3 616.5,1198.3 621.0,1178.2 625.5,1159.1 631.1,1142.3 635.5,1124.3 641.1,1107.5 646.8,1091.8 652.4,1077.3 658.0,1066.1 664.7,1057.1 671.4,1047.0 679.3,1034.7 688.2,1022.3 696.6,1011.8 703.3,1004.5 713.3,999.8 723.2,995.1 733.2,991.2 743.2,987.8 749.8,985.8 756.4,977.9 763.1,970.6 769.7,963.9 776.4,957.9 783.0,956.0 789.7,951.3 796.3,946.6 804.1,942.0 813.1,937.5 822.2,932.0 831.2,923.9 840.3,918.4 849.3,913.9 858.4,909.4 867.5,904.9 876.5,901.2 885.6,897.6 894.6,893.1 903.7,888.6 912.8,884.0 921.8,882.2 930.9,881.0" fill="none" stroke="#b4ecc0" stroke-width="11" stroke-linejoin="round" stroke-linecap="round" opacity="0.5"/>
<polyline points="502.0,1506.0 542.8,1505.6 553.9,1500.8 562.5,1495.6 566.8,1489.7 568.5,1476.8 571.9,1464.0 572.7,1451.2 575.3,1438.4 577.9,1428.1 579.6,1412.7 580.4,1404.2 583.0,1391.4 584.7,1380.3 586.2,1365.9 589.9,1341.1 593.6,1322.5 597.3,1301.4 601.0,1281.6 604.7,1264.3 608.5,1242.0 611.6,1220.9 614.7,1202.3 616.5,1198.3 621.0,1178.2 625.5,1159.1 631.1,1142.3 635.5,1124.3 641.1,1107.5 646.8,1091.8 652.4,1077.3 658.0,1066.1 664.7,1057.1 671.4,1047.0 679.3,1034.7 688.2,1022.3 696.6,1011.8 703.3,1004.5 713.3,999.8 723.2,995.1 733.2,991.2 743.2,987.8 749.8,985.8 756.4,977.9 763.1,970.6 769.7,963.9 776.4,957.9 783.0,956.0 789.7,951.3 796.3,946.6 804.1,942.0 813.1,937.5 822.2,932.0 831.2,923.9 840.3,918.4 849.3,913.9 858.4,909.4 867.5,904.9 876.5,901.2 885.6,897.6 894.6,893.1 903.7,888.6 912.8,884.0 921.8,882.2 930.9,881.0" fill="none" stroke="#087008" stroke-width="6" stroke-linejoin="round" stroke-linecap="round"/>
<line x1="930.9" y1="880.4" x2="1433.7" y2="879.8" stroke="#b4ecc0" stroke-width="9" opacity="0.5"/>
<line x1="930.9" y1="880.4" x2="1433.7" y2="879.8" stroke="#2c7a3a" stroke-width="4.8"/>
<line x1="205.0" y1="1509.8" x2="1448.7" y2="1509.8" stroke="#111" stroke-width="3.9"/>
<text x="192" y="1525.2" class="n" text-anchor="end">0</text>
<text x="192" y="1464.2" class="n" text-anchor="end">10</text>
<text x="192" y="1396.2" class="n" text-anchor="end">20</text>
<text x="192" y="1335.4" class="n" text-anchor="end">30</text>
<text x="192" y="1269.6" class="n" text-anchor="end">40</text>
<text x="192" y="1205.5" class="n" text-anchor="end">50</text>
<text x="192" y="1144.5" class="n" text-anchor="end">60</text>
<text x="192" y="1083.5" class="n" text-anchor="end">70</text>
<text x="192" y="1018.3" class="n" text-anchor="end">80</text>
<text x="192" y="953.6" class="n" text-anchor="end">90</text>
<text x="192" y="889.3" class="n" text-anchor="end">100</text>
<text x="1457" y="897.0" class="n">20</text>
<text x="1457" y="1201.5" class="n">10</text>
<text x="1457" y="1515.5" class="n">0</text>
<text x="229" y="1570.1" class="n" text-anchor="middle">0.1</text>
<text x="533.5" y="1570.1" class="n" text-anchor="middle">1</text>
<text x="828.5" y="1570.1" class="n" text-anchor="middle">10</text>
<text x="1131" y="1570.1" class="n" text-anchor="middle">100</text>
<text x="1441.7" y="1570.1" class="n" text-anchor="middle">1000</text>
<text x="866" y="1663.1" class="t" text-anchor="middle" style="font-size:70.3px">Size (µm)</text>
<text transform="translate(92.5 1169.9) rotate(-90)" class="t" text-anchor="middle">Passing (%)</text>
<text transform="translate(1605.5 1206.0) rotate(-90)" class="t" text-anchor="middle" style="font-size:71.8px">Channel (%)</text>
<text x="256" y="997.5" class="p">(b)</text>
</g>
</svg>
</body></html>
